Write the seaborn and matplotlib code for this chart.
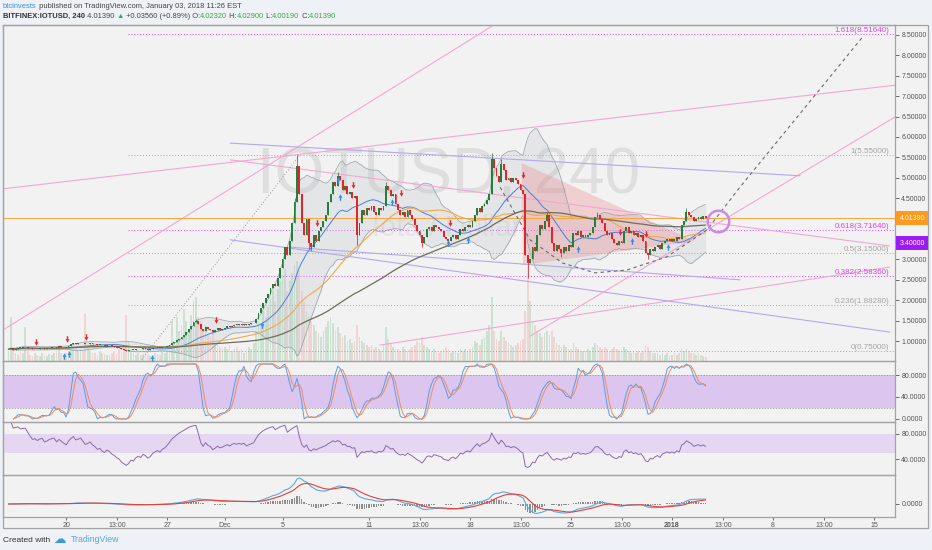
"""TradingView-style IOT/USD 4h chart: candles, fib levels, drawings, StochRSI, RSI, MACD."""

import matplotlib

matplotlib.use("Agg")
import matplotlib.dates as mdates
import matplotlib.pyplot as plt
import matplotlib.transforms as mtransforms
import numpy as np
import pandas as pd
import seaborn as sns
from matplotlib.patches import Polygon, Rectangle
from matplotlib.path import Path

# ---------------------------------------------------------------- data
first_time = "2017-11-16 00:00"
first_open = 0.80
closes = [
    0.80, 0.82, 0.79, 0.81, 0.84, 0.83,  # Nov 16
    0.85, 0.86, 0.84, 0.82, 0.80, 0.81,
    0.80, 0.82, 0.83, 0.81, 0.82, 0.84,
    0.85, 0.86, 0.84, 0.87, 0.86, 0.85,
    0.84, 0.88, 0.92, 0.95, 0.93, 0.94,  # Nov 20
    0.96, 0.94, 0.92, 0.93, 0.95, 0.93,
    0.92, 0.90, 0.91, 0.89, 0.88, 0.90,
    0.89, 0.87, 0.86, 0.84, 0.83, 0.80,
    0.78, 0.76, 0.77, 0.79, 0.78, 0.80,  # Nov 24
    0.81, 0.80, 0.82, 0.81, 0.79, 0.80,
    0.82, 0.83, 0.84, 0.83, 0.85, 0.86,
    0.88, 0.91, 0.95, 0.98, 1.02, 1.06,
    1.10, 1.15, 1.22, 1.30, 1.38, 1.46,  # Nov 28
    1.50, 1.42, 1.30, 1.24, 1.35, 1.30,
    1.28, 1.22, 1.26, 1.31, 1.28, 1.30,
    1.33, 1.36, 1.34, 1.38, 1.40, 1.39,  # Dec 1
    1.41, 1.40, 1.42, 1.39, 1.41, 1.43,
    1.45, 1.55, 1.68, 1.80, 1.92, 2.05,
    2.15, 2.30, 2.40, 2.35, 2.55, 2.80,
    3.00, 3.30, 3.10, 3.45, 3.90, 4.40,  # Dec 5
    5.30, 4.60, 3.90, 3.60, 4.00, 3.40,
    3.30, 3.60, 3.45, 3.70, 3.80, 3.95,
    4.10, 4.40, 4.60, 4.90, 4.80, 5.05,
    4.95, 4.70, 4.80, 4.60, 4.65, 4.50,  # Dec 9
    4.55, 3.60, 3.90, 4.20, 4.10, 4.25,
    4.20, 4.30, 4.15, 4.10, 4.25, 4.20,
    4.30, 4.80, 4.70, 4.55, 4.60, 4.35,
    4.20, 4.10, 4.15, 4.05, 4.20, 4.10,  # Dec 13
    4.00, 3.85, 3.70, 3.60, 3.40, 3.55,
    3.75, 3.80, 3.70, 3.85, 3.80, 3.75,
    3.70, 3.55, 3.50, 3.45, 3.55, 3.60,
    3.50, 3.60, 3.75, 3.70, 3.80, 3.85,  # Dec 17
    3.80, 3.95, 4.10, 4.25, 4.15, 4.30,
    4.35, 4.45, 4.60, 5.45, 5.25, 5.05,
    4.90, 5.35, 5.20, 4.95, 5.00, 4.90,
    5.00, 4.95, 4.85, 4.70, 4.60, 3.10,  # Dec 21
    2.90, 3.00, 3.30, 3.20, 3.60, 3.85,
    3.75, 3.95, 4.10, 3.80, 3.40, 3.20,
    3.35, 3.25, 3.15, 3.30, 3.20, 3.35,
    3.30, 3.65, 3.60, 3.70, 3.55, 3.60,  # Dec 25
    3.55, 3.60, 3.65, 3.80, 4.05, 4.10,
    4.00, 3.90, 3.70, 3.60, 3.65, 3.50,
    3.40, 3.35, 3.45, 3.40, 3.70, 3.80,
    3.65, 3.70, 3.60, 3.65, 3.55, 3.60,  # Dec 29
    3.45, 3.15, 3.10, 3.25, 3.20, 3.30,
    3.35, 3.25, 3.40, 3.45, 3.50, 3.45,
    3.50, 3.45, 3.55, 3.50, 3.85, 3.95,  # Jan 1
    4.15, 4.10, 4.05, 3.95, 4.00, 4.05,
    4.00, 4.06, 4.0139,
]
volume = [
    10, 44, 12, 8, 6, 10,
    8, 34, 10, 6, 5, 8,
    6, 5, 8, 6, 5, 7,
    6, 8, 10, 14, 8, 6,
    8, 10, 12, 18, 14, 10,
    12, 10, 47, 14, 10, 8,
    8, 6, 10, 8, 7, 6,
    6, 8, 10, 7, 12, 10,
    14, 46, 20, 10, 8, 6,
    8, 6, 7, 9, 6, 5,
    6, 8, 7, 6, 10, 8,
    10, 14, 40, 20, 44, 30,
    36, 52, 40, 30, 46, 60,
    64, 44, 40, 30, 36, 26,
    24, 30, 18, 16, 14, 12,
    14, 12, 16, 10, 12, 14,
    10, 12, 8, 10, 14, 12,
    18, 30, 40, 36, 50, 44,
    54, 62, 70, 60, 72, 80,
    86, 92, 70, 80, 88, 96,
    100, 90, 70, 60, 50, 44,
    40, 36, 30, 28, 24, 30,
    34, 40, 44, 38, 30, 34,
    28, 24, 26, 20, 22, 18,
    20, 36, 24, 20, 18, 16,
    14, 16, 12, 14, 12, 10,
    16, 34, 22, 18, 14, 12,
    12, 10, 14, 12, 10, 12,
    14, 16, 20, 18, 24, 16,
    14, 12, 10, 12, 10, 8,
    10, 12, 14, 12, 8, 10,
    10, 8, 12, 10, 12, 10,
    12, 14, 20, 18, 16, 22,
    24, 30, 36, 64, 30, 22,
    20, 30, 24, 20, 18, 16,
    14, 16, 18, 20, 22, 50,
    96, 60, 40, 36, 30, 28,
    24, 28, 30, 26, 30, 24,
    18, 16, 14, 16, 14, 12,
    12, 18, 14, 12, 10, 10,
    10, 12, 10, 14, 18, 16,
    14, 12, 14, 12, 10, 12,
    14, 12, 10, 10, 14, 12,
    10, 8, 10, 8, 10, 8,
    10, 16, 14, 10, 8, 8,
    8, 6, 8, 6, 8, 6,
    6, 8, 6, 8, 12, 10,
    12, 10, 8, 8, 6, 8,
    6, 5, 4,
]
wick_highs = {
    "2017-11-29 00:00": 1.55, "2017-12-05 20:00": 4.50, "2017-12-06 00:00": 5.55,
    "2017-12-08 20:00": 5.15, "2017-12-12 04:00": 4.90, "2017-12-19 12:00": 5.60,
    "2017-12-20 04:00": 5.45, "2017-12-23 08:00": 4.15, "2017-12-26 20:00": 4.15,
    "2018-01-02 00:00": 4.25,
}
wick_lows = {
    "2017-11-24 04:00": 0.75, "2017-12-06 20:00": 3.25, "2017-12-07 00:00": 3.20,
    "2017-12-10 04:00": 3.35, "2017-12-14 16:00": 3.30, "2017-12-16 12:00": 3.35,
    "2017-12-22 00:00": 2.55, "2017-12-24 08:00": 3.05, "2017-12-30 08:00": 3.00,
}
sell_signals = [
    ("2017-11-17 22:00", 0.975), ("2017-11-20 02:00", 1.05), ("2017-11-21 09:00", 1.10),
    ("2017-11-30 09:30", 1.51), ("2017-12-07 09:30", 3.89), ("2017-12-09 21:30", 4.82),
    ("2017-12-13 05:00", 4.63), ("2017-12-16 14:30", 3.89), ("2017-12-21 16:00", 5.07),
    ("2017-12-28 09:30", 3.67), ("2017-12-30 04:30", 3.62),
]
buy_signals = [
    ("2017-11-19 21:00", 0.63), ("2017-11-20 05:00", 0.68), ("2017-11-25 23:00", 0.58),
    ("2017-12-03 14:00", 1.39), ("2017-12-08 20:30", 4.95), ("2017-12-08 23:45", 4.53),
    ("2017-12-12 14:00", 4.41), ("2017-12-16 11:30", 3.40), ("2017-12-17 20:30", 3.48),
    ("2017-12-25 11:30", 3.25), ("2017-12-29 05:00", 3.45), ("2017-12-31 17:30", 3.30),
]

fib_ratios = ["1.618", "1", "0.618", "0.5", "0.382", "0.236", "0"]
fib_prices = [8.5164, 5.55, 3.7164, 3.15, 2.5836, 1.8828, 0.75]
fib_start, fib_end = "2017-11-24 07:00", "2018-01-16 02:00"

pink_lines = [
    ("2017-11-15 15:00", 4.73, "2018-01-16 11:00", 7.27),
    ("2017-11-15 15:00", 1.27, "2017-12-20 02:00", 8.84),
    ("2017-12-01 09:00", 5.44, "2018-01-16 02:00", 3.33),
    ("2017-12-11 18:00", 0.90, "2018-01-16 02:00", 2.81),
    ("2017-12-22 04:00", 1.12, "2018-01-16 11:00", 6.49),
]
purple_lines = [
    ("2017-12-01 09:00", 5.85, "2018-01-09 21:00", 5.05),
    ("2017-12-01 09:00", 3.48, "2018-01-16 02:00", 1.22),
    ("2017-12-05 12:00", 3.30, "2018-01-05 17:00", 2.50),
]
dotted_line = ("2017-11-25 03:00", 0.49, "2017-12-06 05:00", 5.56)
triangle = [("2017-12-21 14:00", 5.36), ("2017-12-21 16:00", 2.86), ("2018-01-02 14:00", 3.45)]
cup_path = [
    ("2017-12-20 02:00", 4.77), ("2017-12-22 04:00", 3.48), ("2017-12-24 10:00", 2.91),
    ("2017-12-26 16:00", 2.67), ("2017-12-28 21:00", 2.74), ("2017-12-31 15:00", 3.06),
    ("2018-01-03 10:00", 3.72), ("2018-01-05 17:00", 4.77), ("2018-01-14 05:00", 8.45),
]
target_circle = ("2018-01-04 04:00", 3.94)
marked_price = 3.40

price_ticks = [1.0, 1.5, 2.0, 2.5, 3.0, 3.5, 4.0, 4.5, 5.0, 5.5, 6.0, 6.5, 7.0, 7.5, 8.0, 8.5]
tick_dates = [
    "2017-11-20", "2017-11-23 13:00", "2017-11-27", "2017-12-01", "2017-12-05", "2017-12-11",
    "2017-12-14 13:00", "2017-12-18", "2017-12-21 13:00", "2017-12-25", "2017-12-28 13:00",
    "2018-01-01", "2018-01-04 13:00", "2018-01-08", "2018-01-11 13:00", "2018-01-15",
]
tick_labels = ["20", "13:00", "27", "Dec", "5", "11", "13:00", "18", "13:00", "25", "13:00",
               "2018", "13:00", "8", "13:00", "15"]
x_start, x_end = "2017-11-15 15:00", "2018-01-16 11:00"

header_1 = [("btcinvests", "#3b8fd9", "normal"),
            (" published on TradingView.com, January 03, 2018 11:26 EST", "#444444", "normal")]
header_2 = [("BITFINEX:IOTUSD, 240", "#333333", "bold"), (" 4.01390 ", "#444444", "normal"),
            ("\u25b2", "#3aa845", "normal"), (" +0.03560 (+0.89%) O:", "#444444", "normal"),
            ("4.02320", "#3aa845", "normal"), (" H:", "#444444", "normal"),
            ("4.02900", "#3aa845", "normal"), (" L:", "#444444", "normal"),
            ("4.00190", "#3aa845", "normal"), (" C:", "#444444", "normal"),
            ("4.01390", "#3aa845", "normal")]

# ---------------------------------------------------------------- style
W, H = 932, 550
BG = "#eef1f5"
PANEL = "#f2f2f2"
EDGE = "#a3a3a3"
TXT = "#555555"
GREEN = "#23803a"
RED = "#e0252b"


def num(s):
    return mdates.date2num(pd.Timestamp(s))


def px_axes(fig, x0, y0, x1, y1):
    return fig.add_axes([x0 / W, 1 - y1 / H, (x1 - x0) / W, (y1 - y0) / H])


def write_pieces(fig, x_px, y_px, pieces, size):
    renderer = fig.canvas.get_renderer()
    x = x_px
    for text, color, weight in pieces:
        t = fig.text(x / W, 1 - y_px / H, text, color=color, fontsize=size,
                     fontweight=weight, va="center", ha="left")
        x += t.get_window_extent(renderer).width


DOWN_ARROW = Path([(-0.22, 1), (0.22, 1), (0.22, 0.1), (0.6, 0.1), (0, -1), (-0.6, 0.1),
                   (-0.22, 0.1), (-0.22, 1)],
                  [Path.MOVETO] + [Path.LINETO] * 6 + [Path.CLOSEPOLY])
UP_ARROW = Path(DOWN_ARROW.vertices * np.array([1, -1]), DOWN_ARROW.codes)


def main() -> None:
    sns.set_theme(style="white")
    plt.rcParams["font.family"] = ["Liberation Sans", "DejaVu Sans"]

    times = pd.date_range(first_time, periods=len(closes), freq="4h")
    t = mdates.date2num(times)
    c = np.array(closes)
    o = np.r_[first_open, c[:-1]]
    hi = np.maximum(o, c)
    lo = np.minimum(o, c)
    for k, v in wick_highs.items():
        hi[times.get_loc(pd.Timestamp(k))] = v
    for k, v in wick_lows.items():
        lo[times.get_loc(pd.Timestamp(k))] = v
    up = c >= o

    close = pd.Series(c)
    sma20 = close.rolling(20, min_periods=1).mean()
    std20 = close.rolling(20, min_periods=1).std(ddof=0)
    sma50 = close.rolling(50, min_periods=1).mean()
    sma100 = close.rolling(100, min_periods=1).mean()

    delta = close.diff()
    gain = delta.clip(lower=0).ewm(alpha=1 / 14, adjust=False).mean()
    loss = (-delta.clip(upper=0)).ewm(alpha=1 / 14, adjust=False).mean()
    rsi = 100 - 100 / (1 + gain / loss)
    rlo = rsi.rolling(14, min_periods=1).min()
    rhi = rsi.rolling(14, min_periods=1).max()
    stoch = (100 * (rsi - rlo) / (rhi - rlo)).replace([np.inf, -np.inf], np.nan)
    k_line = stoch.rolling(3, min_periods=1).mean()
    d_line = k_line.rolling(3, min_periods=1).mean()

    macd = close.ewm(span=12, adjust=False).mean() - close.ewm(span=26, adjust=False).mean()
    signal = macd.ewm(span=9, adjust=False).mean()
    hist = macd - signal

    fig = plt.figure(figsize=(W / 100, H / 100), dpi=100, facecolor=BG)
    frame = Rectangle((3 / W, 1 - 528 / H), 925 / W, 503 / H, transform=fig.transFigure,
                      facecolor=PANEL, edgecolor=EDGE, lw=0.9, zorder=-10)
    fig.patches.append(frame)

    ax = px_axes(fig, 3, 25, 895, 361)
    ax_st = px_axes(fig, 3, 361, 895, 422)
    ax_rsi = px_axes(fig, 3, 422, 895, 475)
    ax_macd = px_axes(fig, 3, 475, 895, 517)
    ax_vol = ax.twinx()
    ax_vol.set_zorder(1)
    ax.set_zorder(2)

    for a in (ax, ax_st, ax_rsi, ax_macd):
        a.set_facecolor("none")
        a.set_xlim(num(x_start), num(x_end))
        for s in a.spines.values():
            s.set_color(EDGE)
            s.set_linewidth(0.9)
        a.yaxis.tick_right()
        a.tick_params(axis="y", labelsize=5, colors=TXT, length=3, width=0.6, pad=1.5,
                      left=False, right=True)
        a.tick_params(axis="x", bottom=False, labelbottom=False)
        a.grid(False)

    # volume
    ax_vol.set_ylim(0, 336)
    ax_vol.axis("off")
    ax_vol.bar(t, volume, width=0.12, color=np.where(up, "#94c9a0", "#f0aaaa"), alpha=0.4, lw=0)

    # watermark
    ax.text(0.5, 0.55, "IOTUSD, 240", transform=ax.transAxes, ha="center", va="center",
            fontsize=46, color="#dedede", zorder=0)
    ax.text(0.497, 0.396, "Iota / Dollar", transform=ax.transAxes, ha="center", va="center",
            fontsize=21, color="#e4e4e4", zorder=0)

    ax.set_ylim(0.51, 8.745)
    ax.set_yticks(price_ticks)
    ax.set_yticklabels([f"{p:.5f}" for p in price_ticks])

    # fib levels
    for ratio, price in zip(fib_ratios, fib_prices):
        col = "#e040fb" if ratio in ("1.618", "0.618", "0.382") else "#a5a5a5"
        ax.plot([num(fib_start), num(x_end)], [price, price], color=col, lw=0.7,
                ls=(0, (1, 2)), zorder=1)
        ax.text(num(fib_end), price, f"{ratio}({price:.5f})", color=col, fontsize=5.8,
                ha="right", va="bottom", zorder=5)

    # drawings
    for x0, y0, x1, y1 in pink_lines:
        ax.plot([num(x0), num(x1)], [y0, y1], color="#f2a7d3", lw=0.8, zorder=1.5)
    for x0, y0, x1, y1 in purple_lines:
        ax.plot([num(x0), num(x1)], [y0, y1], color="#b5a8ec", lw=0.8, zorder=1.5)
    x0, y0, x1, y1 = dotted_line
    ax.plot([num(x0), num(x1)], [y0, y1], color="#9a9a9a", lw=0.7, ls=(0, (1, 2)), zorder=1.5)
    ax.add_patch(Polygon([(num(d), p) for d, p in triangle], closed=True, facecolor="#ef7f86",
                         alpha=0.3, edgecolor="none", zorder=1.2))
    ax.axhline(c[-1], color="#f7a440", lw=0.7, zorder=1.6)

    # bollinger + moving averages
    ax.fill_between(t, sma20 - 2 * std20, sma20 + 2 * std20, color="#b9c2ca", alpha=0.25,
                    lw=0, zorder=1.1)
    for band in (sma20 - 2 * std20, sma20 + 2 * std20):
        sns.lineplot(x=t, y=band, ax=ax, color="#9aa4ad", lw=0.55, legend=False, zorder=1.3)
    sns.lineplot(x=t, y=sma20, ax=ax, color="#4a7fd6", lw=0.7, legend=False, zorder=2)
    sns.lineplot(x=t, y=sma50, ax=ax, color="#f0a94a", lw=0.8, legend=False, zorder=2)
    sns.lineplot(x=t, y=sma100, ax=ax, color="#6d6d5a", lw=0.9, legend=False, zorder=2)

    cup = [(num(d), p) for d, p in cup_path]
    ax.plot([q[0] for q in cup], [q[1] for q in cup], color="#6a6a6a", lw=0.8,
            ls=(0, (3, 3)), zorder=2.5)

    # candles
    cols = np.where(up, GREEN, RED)
    ax.vlines(t, lo, hi, colors=cols, lw=0.55, zorder=3)
    ax.bar(t, np.maximum(np.abs(c - o), 0.015), bottom=np.minimum(o, c), width=0.13,
           color=cols, lw=0, zorder=3)

    ax.scatter([num(d) for d, _ in sell_signals], [p for _, p in sell_signals], marker=DOWN_ARROW,
               s=22, color="#e8262c", lw=0, zorder=4)
    ax.scatter([num(d) for d, _ in buy_signals], [p for _, p in buy_signals], marker=UP_ARROW,
               s=22, color="#2a93e8", lw=0, zorder=4)
    ax.plot([num(target_circle[0])], [target_circle[1]], "o", ms=15.5, mfc="none",
            mec="#c98be8", mew=1.8, zorder=4)

    # price labels on the axis
    blend = mtransforms.blended_transform_factory(ax.transAxes, ax.transData)
    ax.text(1.005, c[-1], f"{c[-1]:.5f}", transform=blend, fontsize=5, color="white",
            va="center", ha="left", zorder=6, clip_on=False,
            bbox=dict(boxstyle="square,pad=0.45", fc="#ff9a1f", ec="none"))
    ax.text(1.005, marked_price, f"{marked_price:.5f}", transform=blend, fontsize=5,
            color="white", va="center", ha="left", zorder=6, clip_on=False,
            bbox=dict(boxstyle="square,pad=0.45", fc="#9c1bf5", ec="none"))

    # stochastic RSI
    ax_st.set_ylim(-5.5, 105.5)
    ax_st.axhspan(20, 80, color="#d9bff0", alpha=0.85, lw=0, zorder=0)
    for lvl in (20, 80):
        ax_st.axhline(lvl, color="#8f8f8f", lw=0.5, ls=(0, (2, 2)), zorder=0.5)
    sns.lineplot(x=t, y=k_line, ax=ax_st, color="#5b9ce6", lw=0.7, legend=False)
    sns.lineplot(x=t, y=d_line, ax=ax_st, color="#f08c5a", lw=0.7, legend=False)
    ax_st.set_yticks([0, 40, 80])
    ax_st.set_yticklabels(["0.0000", "40.0000", "80.0000"])

    # RSI
    ax_rsi.set_ylim(14.4, 99.2)
    ax_rsi.axhspan(50, 80, color="#e4d3f3", alpha=0.9, lw=0, zorder=0)
    sns.lineplot(x=t, y=rsi, ax=ax_rsi, color="#8b6aa8", lw=0.7, legend=False)
    ax_rsi.set_yticks([40, 80])
    ax_rsi.set_yticklabels(["40.0000", "80.0000"])

    # MACD
    top = macd.max() * 29 / 26
    ax_macd.set_ylim(-top * 13 / 29, top)
    ax_macd.bar(t, hist, width=0.1, color="#8d8d8d", lw=0)
    sns.lineplot(x=t, y=macd, ax=ax_macd, color="#5fa8e0", lw=0.8, legend=False)
    sns.lineplot(x=t, y=signal, ax=ax_macd, color="#e0413a", lw=0.8, legend=False)
    ax_macd.set_yticks([0])
    ax_macd.set_yticklabels(["0.0000"])

    ax_macd.set_xticks([num(d) for d in tick_dates])
    ax_macd.set_xticklabels(tick_labels)
    ax_macd.tick_params(axis="x", bottom=True, labelbottom=True, labelsize=5, colors=TXT,
                        length=2, width=0.6, pad=1.5)
    ax_macd.get_xticklabels()[tick_labels.index("2018")].set_fontweight("bold")
    for a in (ax, ax_st, ax_rsi, ax_macd):
        a.set_xlim(num(x_start), num(x_end))
        a.set_xlabel("")
        a.set_ylabel("")

    # header and footer
    write_pieces(fig, 3, 6.5, header_1, 5.4)
    write_pieces(fig, 3, 16.5, header_2, 5.4)
    fig.text(3 / W, 1 - 540 / H, "Created with", fontsize=6, color="#333333", va="center")
    fig.text(53 / W, 1 - 539 / H, "\u2601", fontsize=9, color="#3d9ad7", va="center",
             family="DejaVu Sans")
    fig.text(71 / W, 1 - 540 / H, "TradingView", fontsize=6.3, color="#55a7dd", va="center")

    fig.savefig("out.png", dpi=100, facecolor=BG)
    plt.close(fig)


if __name__ == "__main__":
    main()
